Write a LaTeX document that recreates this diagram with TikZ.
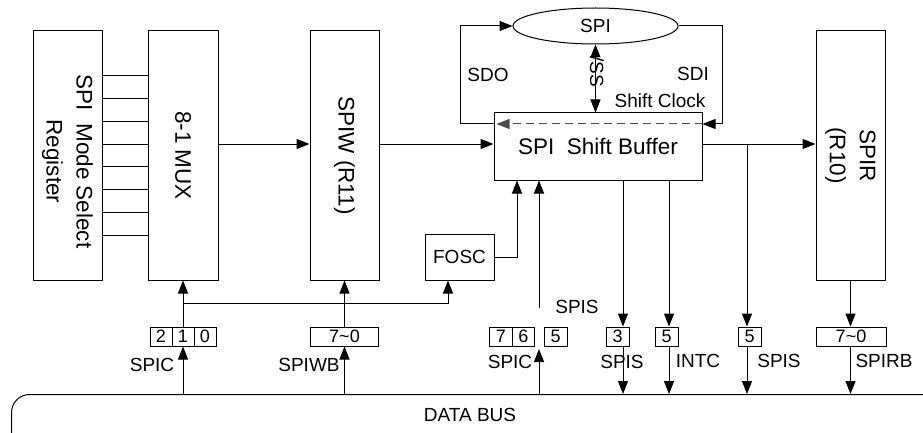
\documentclass[tikz,border=0pt]{standalone}
\usepackage{fontspec}
\setmainfont{Liberation Sans}
\usetikzlibrary{arrows.meta,shapes.geometric,calc}
\begin{document}
\begin{tikzpicture}[x=1pt,y=-1pt,line width=1pt,
  arr/.style={-{Triangle[length=13pt,width=10pt]}},
  darr/.style={{Triangle[length=13pt,width=10pt]}-{Triangle[length=13pt,width=10pt]}},
  blk/.style={draw,inner sep=0pt,minimum width=69pt,minimum height=249pt},
  bigtxt/.style={font=\fontsize{22.5}{30}\selectfont,align=center,rotate=-90},
  lbl/.style={font=\fontsize{19}{22}\selectfont,inner sep=0pt},
  bit/.style={draw,inner sep=0pt,minimum height=19pt,minimum width=22pt,font=\fontsize{18}{19}\selectfont}]
\useasboundingbox (0,0) rectangle (923,433);
\clip (0,0) rectangle (923,433);
% main blocks
\node[blk] (reg) at (67.5,155.5) {};
\node[bigtxt] (regt) at ($(reg.center)+(0,6)$) {SPI\ \ Mode Select\\Register};
\node[blk,minimum width=70pt] (mux) at (183,155.5) {};
\node[bigtxt] (muxt) at (mux.center) {8-1 MUX};
\node[blk] (spiw) at (344.5,155.5) {};
\node[bigtxt] (spiwt) at (spiw.center) {SPIW (R11)};
\node[blk] (spir) at (850.5,155.5) {};
\node[bigtxt] (spirt) at (spir.center) {SPIR\\(R10)};
\node[draw,inner sep=0pt,minimum width=208pt,minimum height=67pt,font=\fontsize{22.5}{26}\selectfont] (buf) at (598,146.5) {SPI\ \ Shift Buffer};
\node[draw,ellipse,inner sep=0pt,minimum width=165pt,minimum height=36pt,font=\fontsize{19}{22}\selectfont] (spi) at (595.5,26) {SPI};
\node[draw,inner sep=0pt,minimum width=69pt,minimum height=46pt,font=\fontsize{19}{22}\selectfont] (fosc) at (459.5,257) {FOSC};
% data bus
\node[draw,rounded corners=18pt,inner sep=0pt,minimum width=940pt,minimum height=70pt,anchor=north west] (bus) at (11,394) {};
\node[lbl] (bust) at (470,415) {DATA BUS};
% bit boxes
\node[bit] (c2) at (161,336.5) {2};
\node[bit] (c1) at (183,336.5) {1};
\node[bit] (c0) at (205,336.5) {0};
\node[bit,minimum width=68pt] (wb) at (344.5,336.5) {7\textasciitilde0};
\node[bit,minimum width=22.5pt] (c7) at (500.75,336.5) {7};
\node[bit,minimum width=22.5pt] (c6) at (523.25,336.5) {6};
\node[bit,minimum width=23pt] (c5) at (555.5,336.5) {5};
\node[bit,minimum width=23pt] (s3) at (617.5,336.5) {3};
\node[bit,minimum width=23pt] (i5) at (666.5,336.5) {5};
\node[bit,minimum width=23pt] (s5) at (749.5,336.5) {5};
\node[bit,minimum width=70pt] (rb) at (851,336.5) {7\textasciitilde0};
% labels
\node[lbl] (l1) at (152,365) {SPIC};
\node[lbl] (l2) at (309,365) {SPIWB};
\node[lbl] (l3) at (510,362) {SPIC};
\node[lbl] (l4) at (577,307) {SPIS};
\node[lbl] (l5) at (622,362) {SPIS};
\node[lbl] (l6) at (698,361) {INTC};
\node[lbl] (l7) at (779,361) {SPIS};
\node[lbl] (l8) at (884,361) {SPIRB};
\node[lbl] (sdo) at (488,75) {SDO};
\node[lbl] (sdi) at (693,74) {SDI};
\node[lbl] (sck) at (660,101) {Shift Clock};
% helper coordinates
\coordinate (dy) at (0,144);
\coordinate (cy) at (0,124);
\coordinate (hy) at (0,303);
\coordinate (fx) at (448,0);
\coordinate (ox) at (517,0);
\coordinate (sx) at (539,0);
\coordinate (x3) at (623,0);
\coordinate (x5) at (669,0);
\coordinate (jx) at (747,0);
\coordinate (sdix) at (722,124);
\coordinate (sdox) at (460,124);
\coordinate (spisfree) at (539,308);
\coordinate (spictip) at (539,349);
% mode select lines
\foreach \yy in {76,98.7,121.4,144.1,166.8,189.5,212.2,235}
  \draw (reg.east |- 0,\yy) -- (mux.west |- 0,\yy);
% data path
\draw[arr] (mux.east |- dy) -- (spiw.west |- dy);
\draw[arr] (spiw.east |- dy) -- (buf.west |- dy);
\draw[arr] (buf.east |- dy) -- (spir.west |- dy);
% SPI loop
\draw[arr] (buf.west |- cy) -- (sdox) |- (spi.west);
\draw[arr] (spi.east) -| (sdix) -- (buf.east |- cy);
\draw[arr,dashed,dash pattern=on 8pt off 5pt,black!70] (buf.east |- cy) -- ($(buf.west |- cy)+(3,0)$);
\draw[darr] (spi.south) -- (spi.south |- buf.north);
\node[lbl,rotate=-90] (ss) at (597,72) {/SS};
% SPIC bits to MUX and FOSC
\draw[arr] (c1.north) -- (mux.south);
\draw[arr] (c1 |- bus.north) -- (c1.south);
\draw[arr] (c1 |- hy) -| (fx |- fosc.south);
% SPIWB
\draw[arr] (wb.north) -- (spiw.south);
\draw[arr] (wb |- bus.north) -- (wb.south);
% FOSC and SPIS into buffer
\draw[arr] (fosc.east) -| (ox |- buf.south);
\draw[arr] (spisfree) -- (sx |- buf.south);
\draw[arr] (sx |- bus.north) -- (spictip);
% buffer outputs
\draw[arr] (x3 |- buf.south) -- (x3 |- s3.north);
\draw[arr] (x3 |- s3.south) -- (x3 |- bus.north);
\draw[arr] (x5 |- buf.south) -- (x5 |- i5.north);
\draw[arr] (x5 |- i5.south) -- (x5 |- bus.north);
\draw[arr] (jx |- dy) -- (jx |- s5.north);
\draw[arr] (jx |- s5.south) -- (jx |- bus.north);
% SPIR to bus
\draw[arr] (spir.south) -- (spir.south |- rb.north);
\draw[arr] (spir.south |- rb.south) -- (spir.south |- bus.north);
\end{tikzpicture}
\end{document}
